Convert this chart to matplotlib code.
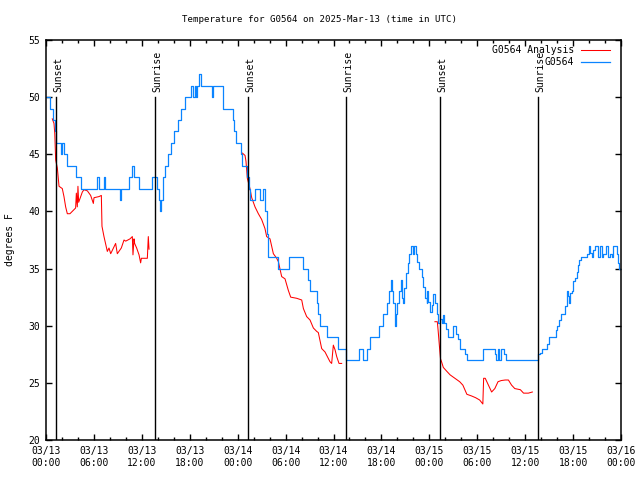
import numpy as np
import pandas as pd
import matplotlib
matplotlib.use("Agg")
import matplotlib.pyplot as plt
import matplotlib.dates as mdates

# hours since 2025-03-13 00:00 UTC
obs_h = [0.0, 0.5, 0.9, 1.1, 1.3, 1.85, 2.0, 2.2, 2.67, 3.75, 4.4,
         6.4, 6.65, 7.25, 7.45, 9.25, 9.45, 10.4, 10.8, 11.0, 11.65,
         13.3, 13.85, 14.1, 14.25, 14.45, 14.6, 14.7, 14.9, 15.3, 15.6,
         16.0, 16.5, 16.9, 17.4, 18.2, 18.35, 18.6, 18.75, 18.85, 19.2,
         19.4, 20.75, 20.95, 22.2, 23.4, 23.6, 23.85, 24.4, 24.6, 25.2,
         25.4, 25.55, 26.2, 26.8, 27.13, 27.42, 27.63, 27.8, 29.1, 30.4,
         32.2, 32.85, 33.06, 33.9, 34.1, 34.31, 35.15, 36.6, 37.6, 39.2,
         39.65, 40.2, 40.6, 41.74, 42.16, 42.74, 43.0, 43.16, 43.35, 43.5,
         43.7, 43.83, 44.0, 44.24, 44.41, 44.54, 44.66, 44.87, 45.08,
         45.29, 45.5, 45.66, 45.92, 46.08, 46.33, 46.5, 46.75, 47.04,
         47.25, 47.46, 47.67, 47.75, 47.88, 48.08, 48.3, 48.5, 48.7, 48.9,
         49.1, 49.3, 49.55, 49.67, 49.8, 50.1, 50.4, 51.0, 51.34, 51.6,
         51.84, 52.47, 52.7, 54.76, 56.2, 56.4, 56.64, 56.77, 56.94,
         57.35, 57.6, 61.65, 61.86, 62.07, 62.78, 63.03, 63.86, 64.03,
         64.28, 64.45, 64.99, 65.2, 65.33, 65.53, 65.61, 65.83, 66.03,
         66.24, 66.45, 66.66, 66.78, 66.95, 67.78, 67.99, 68.12, 68.33,
         68.53, 68.74, 69.08, 69.37, 69.58, 69.79, 70.12, 70.41, 70.62,
         70.83, 70.96, 71.54, 71.66, 71.79, 71.95]
obs_f = [50, 49, 48, 47, 46, 45, 46, 45, 44, 43, 42,
         43, 42, 43, 42, 41, 42, 43, 44, 43, 42,
         43, 42, 41, 40, 41, 42, 43, 44, 45, 46,
         47, 48, 49, 50, 51, 50, 51, 50, 51, 52,
         51, 50, 51, 49, 48, 47, 46, 45, 44, 43,
         42, 41, 42, 41, 42, 40, 38, 36, 35, 36,
         35, 34, 33, 32, 31, 30, 29, 28, 27, 28,
         27, 28, 29, 30, 31, 32, 33, 34, 33, 32,
         30, 31, 32, 33, 34, 32.4, 32, 33.3, 34.6,
         35.5, 36.3, 37, 36.3, 37, 36.3, 35.6, 35, 34.3,
         33.4, 32.4, 32, 33, 32.1, 31.2, 31.8, 32.8, 32, 31,
         30.2, 30.6, 30.2, 30.9, 30.2, 29.7, 29, 30, 29.3, 28.8,
         28, 27.5, 27, 28, 27.5, 27, 28, 27, 28,
         27.5, 27, 27.5, 27.6, 28, 28.4, 29, 29.6, 30,
         30.5, 31, 31.7, 33, 32.6, 32, 32.9, 33, 33.9,
         34.2, 34.7, 35.3, 35.75, 36, 36.3, 37, 36.4, 36,
         36.6, 37, 36, 37, 36, 36.3, 37, 36, 36.3,
         36, 37, 36.3, 35.5, 35, 35]

ana_h = [0.79, 1.0, 1.1, 1.21, 1.42, 1.63, 2.04, 2.25, 2.46, 2.67, 3.0,
         3.71, 3.8, 3.92, 4.0, 4.09, 4.55, 4.76, 5.18, 5.59, 5.93, 6.01,
         6.64, 6.93, 7.01, 7.26, 7.68, 7.89, 8.1, 8.72, 8.93, 9.43, 9.77,
         9.98, 10.52, 10.81, 10.89, 11.02, 11.1, 11.35, 11.65, 11.85,
         11.94, 12.27, 12.69, 12.81, 12.9,
         np.nan,
         24.6, 24.92, 25.04, 25.21, 25.54, 25.76, 26.17, 26.59, 27.0,
         27.42, 27.63, 28.05, 28.47, 28.89, 29.1, 29.51, 29.93, 30.34,
         30.64, 31.39, 32.02, 32.23, 32.64, 33.06, 33.48, 33.9, 34.1,
         34.52, 34.94, 35.23, 35.56, 35.77, 35.98, 36.19, 36.4, 36.69,
         37.02,
         np.nan,
         48.7, 49.0, 49.1, 49.2, 49.3, 49.4, 49.55, 49.75, 50.2, 50.6,
         51.0, 51.4, 51.8, 52.2, 52.7, 53.3, 53.8, 54.3, 54.7, 54.8,
         55.0, 55.4, 55.8, 56.2, 56.6, 57.0, 57.5, 57.9, 58.3, 58.7,
         59.4, 59.8, 60.4, 60.9]
ana_f = [48.1, 47.7, 46.8, 44.5, 43.8, 42.2, 42.0, 41.3, 40.4, 39.8, 39.8,
         40.3, 41.6, 40.4, 42.2, 40.8, 41.7, 41.9, 41.8, 41.4, 40.7, 41.2,
         41.3, 41.4, 38.7, 37.8, 36.5, 36.8, 36.3, 37.2, 36.3, 36.8, 37.5,
         37.4, 37.6, 37.8, 36.2, 37.6, 37.2, 36.8, 36.2, 35.5,
         35.9, 35.9, 35.9, 37.8, 36.7,
         np.nan,
         45.1, 44.9, 44.4, 42.9, 42.0, 41.2, 40.4, 39.8, 39.3,
         38.5, 37.8, 37.6, 36.3, 35.9, 35.6, 34.3, 34.1, 33.1,
         32.5, 32.4, 32.25, 31.5, 30.8, 30.5, 29.8, 29.5, 29.4,
         28.0, 27.7, 27.3, 26.85, 26.7, 28.3, 27.9, 27.3, 26.7,
         26.7,
         np.nan,
         30.35, 30.35, 29.6, 28.75, 27.9, 27.1, 26.8, 26.35, 26.0, 25.7,
         25.5, 25.3, 25.1, 24.8, 24.0, 23.85, 23.7, 23.5, 23.15, 25.4,
         25.4, 24.8, 24.2, 24.5, 25.1, 25.2, 25.25, 25.25, 24.8, 24.5,
         24.4, 24.1, 24.1, 24.2]

sun_h = [1.25, 13.69, 25.33, 37.6, 49.37, 61.65]
sun_lbl = ["Sunset", "Sunrise", "Sunset", "Sunrise", "Sunset", "Sunrise"]

base = pd.Timestamp("2025-03-13 00:00")


def to_time(hours):
    return base + pd.to_timedelta(np.asarray(hours, dtype=float), unit="h")


mono = "DejaVu Sans Mono"
fig = plt.figure(figsize=(6.4, 4.8), dpi=100)
ax = fig.add_axes([46 / 640, 40 / 480, 575 / 640, 400 / 480])

ax.plot(to_time(ana_h), ana_f, color="#ff0000", lw=0.75)
ax.plot(to_time(obs_h), obs_f, color="#0a84ff", lw=0.9, drawstyle="steps-post")

for h, lbl in zip(sun_h, sun_lbl):
    t = to_time([h])[0]
    ax.plot([t, t], [50, 20], color="black", lw=1.0)
    ax.annotate(lbl, (t, 50), xytext=(1.5, 3.5), textcoords="offset points",
                rotation=90, ha="center", va="bottom", fontsize=7, family=mono)

ax.set_xlim(base, base + pd.Timedelta(hours=72))
ax.set_ylim(20, 55)
ax.set_yticks(np.arange(20, 56, 5))
ax.xaxis.set_major_locator(mdates.HourLocator(byhour=[0, 6, 12, 18]))
ax.xaxis.set_minor_locator(mdates.HourLocator(interval=2))
ax.xaxis.set_major_formatter(mdates.DateFormatter("%m/%d\n%H:%M"))
ax.tick_params(which="both", direction="in", top=True, right=True,
               labelsize=7, width=1)
ax.tick_params(which="major", length=4.5, pad=4)
ax.tick_params(which="minor", length=2.5)
for lab in ax.get_xticklabels() + ax.get_yticklabels():
    lab.set_family(mono)
    lab.set_linespacing(1.3)
for s in ax.spines.values():
    s.set_linewidth(1.1)

# legend, gnuplot style
ax.text(0.918, 0.975, "G0564 Analysis", transform=ax.transAxes, ha="right",
        va="center", fontsize=7, family=mono)
ax.text(0.918, 0.944, "G0564", transform=ax.transAxes, ha="right",
        va="center", fontsize=7, family=mono)
ax.plot([0.930, 0.980], [0.975, 0.975], color="#ff0000", lw=0.75,
        transform=ax.transAxes)
ax.plot([0.930, 0.980], [0.944, 0.944], color="#0a84ff", lw=0.9,
        transform=ax.transAxes)

fig.text(0.5, 1 - 20 / 480, "Temperature for G0564 on 2025-Mar-13 (time in UTC)",
         ha="center", va="center", fontsize=6.6, family=mono)
fig.text(10 / 640, 0.5, "degrees F", rotation=90, ha="center", va="center",
         fontsize=7, family=mono)

fig.savefig("out.png", dpi=100)
